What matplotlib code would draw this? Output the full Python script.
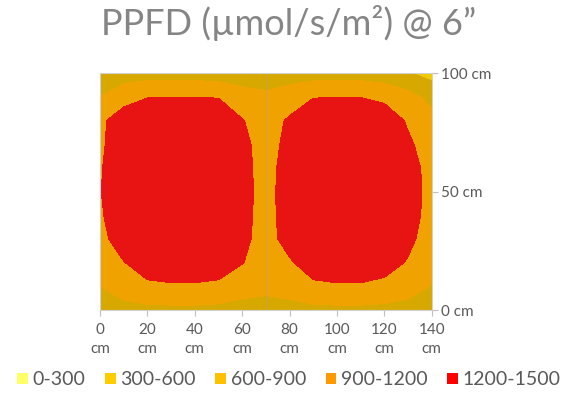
import numpy as np
import matplotlib
matplotlib.use('Agg')
import matplotlib.pyplot as plt
from matplotlib.patches import Patch

# PPFD grid (umol/s/m2), rows = y (0..100 cm), columns = x (0..140 cm)
x_cm = [0, 10, 20, 30, 40, 50, 60, 70, 80, 90, 100, 110, 120, 130, 140]
y_cm = [0, 10, 20, 30, 40, 50, 60, 70, 80, 90, 100]
ppfd = [
    [700, 780, 820, 830, 830, 810, 760, 740, 770, 820, 830, 830, 810, 760, 650],     # y=0
    [900, 1080, 1150, 1170, 1170, 1150, 1060, 1000, 1060, 1150, 1170, 1170, 1140, 1060, 880],  # y=10
    [1050, 1190, 1330, 1370, 1370, 1330, 1210, 1080, 1170, 1330, 1370, 1370, 1300, 1180, 1000],  # y=20
    [1120, 1340, 1400, 1420, 1420, 1400, 1260, 1100, 1300, 1400, 1420, 1420, 1380, 1260, 1080],  # y=30
    [1170, 1360, 1420, 1440, 1440, 1420, 1280, 1100, 1330, 1420, 1440, 1440, 1400, 1290, 1120],  # y=40
    [1190, 1370, 1420, 1450, 1450, 1420, 1290, 1100, 1340, 1420, 1450, 1450, 1400, 1300, 1130],  # y=50
    [1180, 1360, 1420, 1440, 1440, 1420, 1280, 1100, 1320, 1420, 1440, 1440, 1400, 1290, 1120],  # y=60
    [1160, 1340, 1400, 1420, 1420, 1400, 1260, 1100, 1270, 1400, 1420, 1420, 1370, 1240, 1080],  # y=70
    [1150, 1330, 1380, 1390, 1390, 1360, 1210, 1100, 1230, 1360, 1390, 1390, 1350, 1170, 1000],  # y=80
    [900, 1100, 1190, 1195, 1195, 1190, 1080, 1000, 1080, 1190, 1195, 1195, 1140, 1000, 800],  # y=90
    [700, 740, 760, 760, 760, 740, 650, 620, 720, 760, 760, 760, 720, 620, 500],     # y=100
]

levels = [0, 300, 600, 900, 1200, 1500]
band_labels = ['0-300', '300-600', '600-900', '900-1200', '1200-1500']
band_colors = ['#FFFF66', '#FFCC00', '#FFC000', '#FF9900', '#FF0000']
# colours as they appear on the shaded surface
surface_colors = ['#FFFF66', '#F0CC00', '#D6A800', '#F0A300', '#E81414']

x_ticks = [0, 20, 40, 60, 80, 100, 120, 140]
y_ticks = [0, 50, 100]

plt.rcParams['font.family'] = ['Lato', 'DejaVu Sans']
grey = '#858585'
label_grey = '#595959'

fig = plt.figure(figsize=(5.78, 3.97), dpi=100)
ax = fig.add_axes([0.173, 0.219, 0.574, 0.597])

X, Y = np.meshgrid(x_cm, y_cm)
ax.contourf(X, Y, np.array(ppfd), levels=levels, colors=surface_colors)
ax.axvline(70, color='#C8A060', lw=0.8, alpha=0.7)

ax.set_xlim(0, 140)
ax.set_ylim(0, 100)
ax.set_xticks(x_ticks)
ax.set_xticklabels([f'{v}\ncm' for v in x_ticks], linespacing=1.45)
ax.set_yticks(y_ticks)
ax.set_yticklabels([f'{v} cm' for v in y_ticks])
ax.yaxis.tick_right()
ax.tick_params(colors='#BFBFBF', labelcolor=label_grey, labelsize=11, length=4, width=0.8)
ax.tick_params(axis='x', pad=5)
ax.tick_params(axis='y', pad=3)
for s in ax.spines.values():
    s.set_color('#D0D0D0')
    s.set_linewidth(0.8)

fig.text(0.5, 0.943, 'PPFD (µmol/s/m²) @ 6”', ha='center', va='center',
         fontsize=26, color=grey)

handles = [Patch(facecolor=c, edgecolor='none') for c in band_colors]
fig.legend(handles, band_labels, loc='center', bbox_to_anchor=(0.5, 0.043), ncol=5,
           frameon=False, fontsize=14, labelcolor=label_grey, handlelength=0.55,
           handleheight=0.55, handletextpad=0.25, columnspacing=1.0)

fig.savefig('out.png', dpi=100)
